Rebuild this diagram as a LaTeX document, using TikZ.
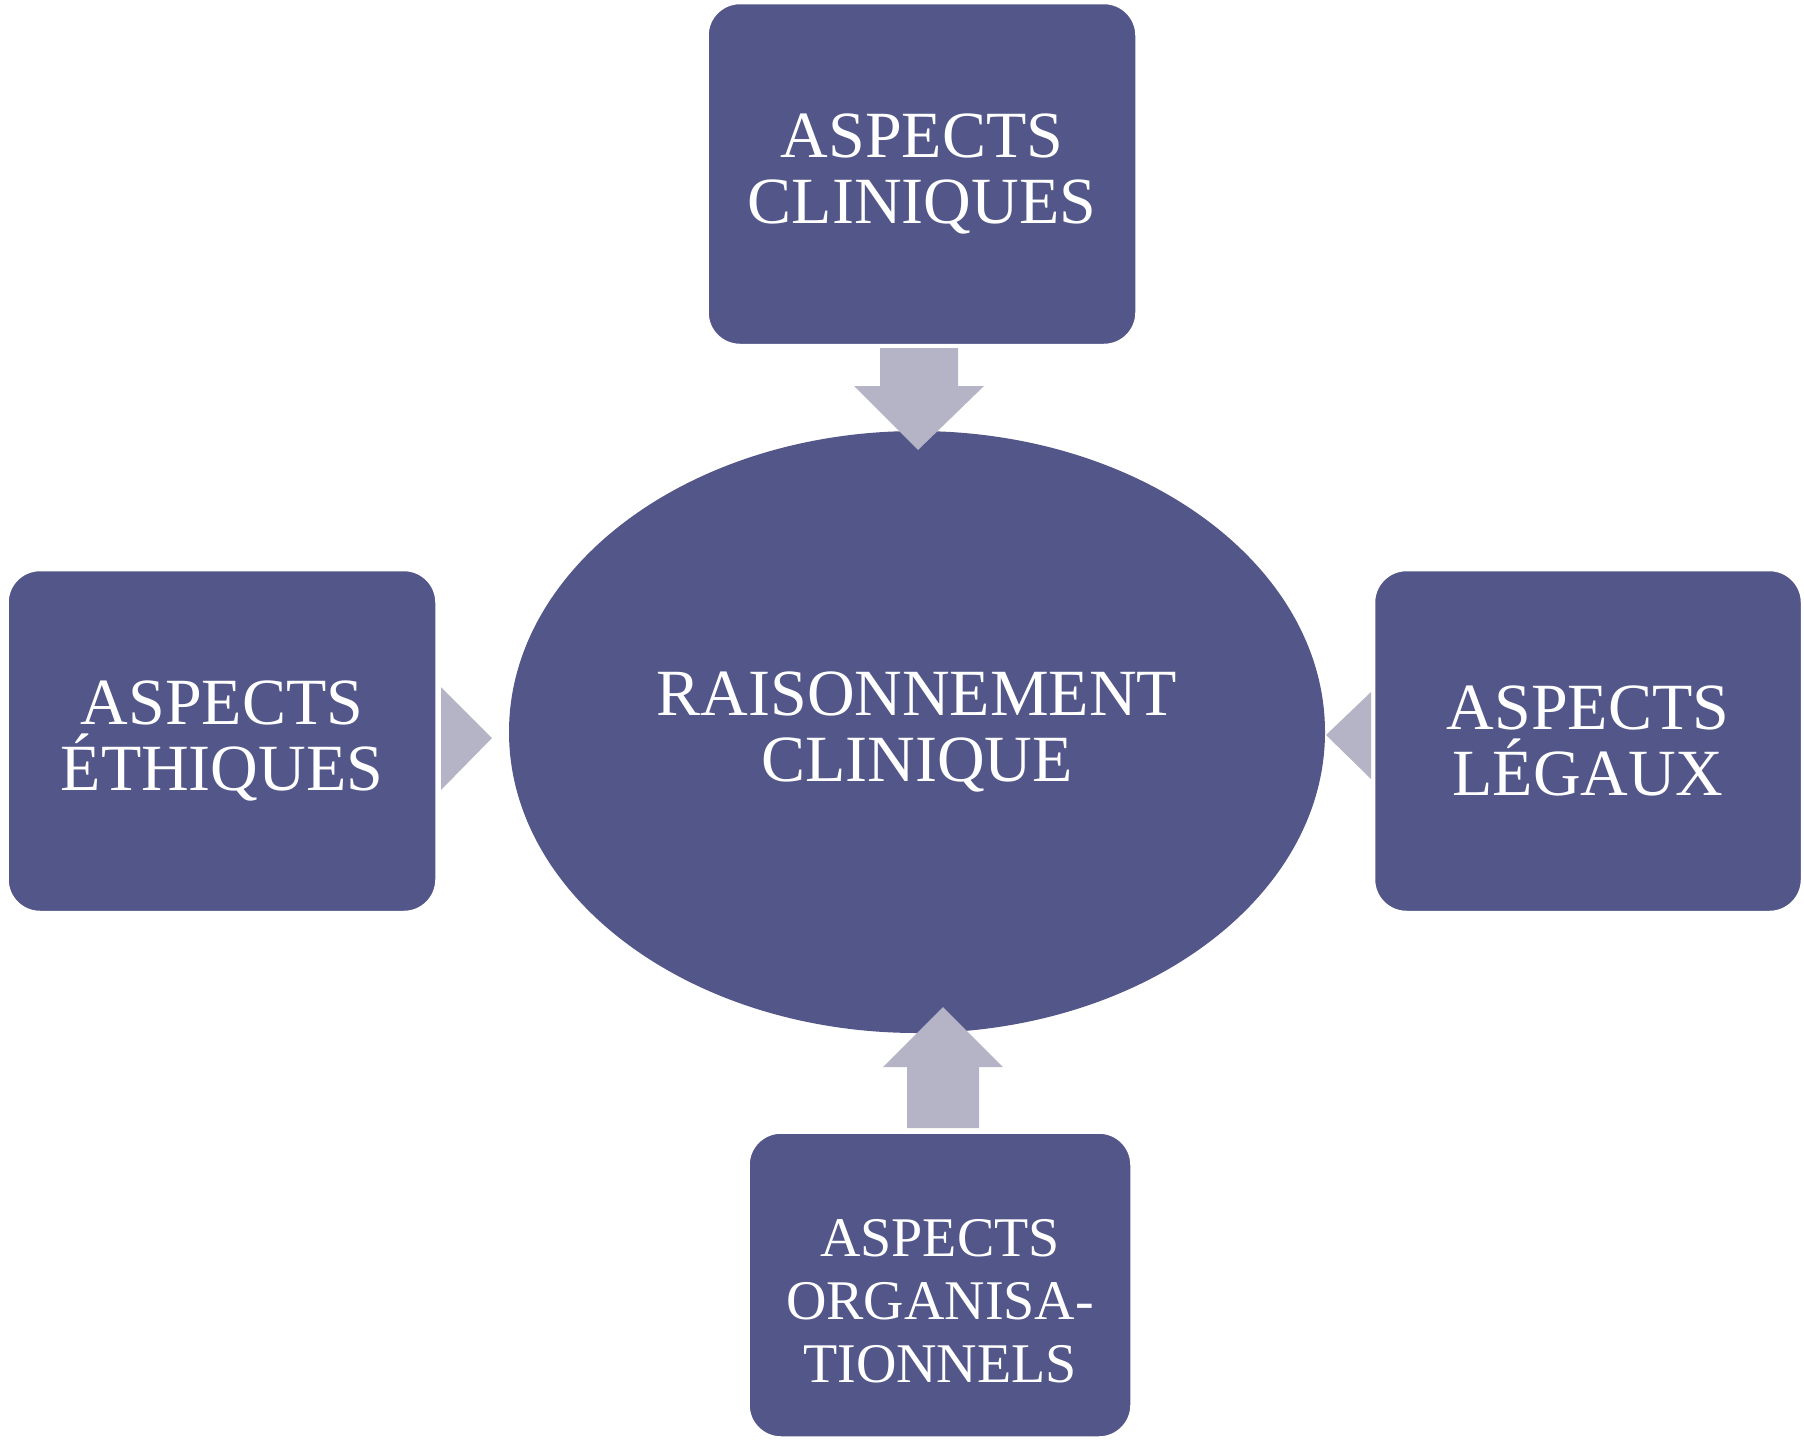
\documentclass[tikz,border=0pt]{standalone}
\usepackage{fontspec}
\setmainfont{Liberation Serif}
\usetikzlibrary{shapes.geometric}
\definecolor{boxblue}{RGB}{83,86,137}
\definecolor{arrowgray}{RGB}{180,180,198}

\begin{document}
\begin{tikzpicture}[x=1pt, y=-1pt]
	\tikzstyle{aspect} = [rectangle, rounded corners=32pt, fill=boxblue, draw=white, line width=1.5pt, text=white, align=center, font=\fontsize{66}{66}\selectfont]
	\tikzstyle{bigarrow} = [fill=arrowgray, draw=none]
	\useasboundingbox (0,0) rectangle (1804,1440);
	\node [ellipse, fill=boxblue, minimum width=816pt, minimum height=602pt, text=white, align=center, font=\fontsize{66}{66}\selectfont] (raison) at (917, 732) {RAISONNEMENT\\CLINIQUE};
	\node [aspect, minimum width=428pt, minimum height=341pt] (clin) at (922, 174) {ASPECTS\\CLINIQUES};
	\node [aspect, minimum width=428pt, minimum height=341pt] (ethi) at (222, 741) {ASPECTS\\ÉTHIQUES};
	\node [aspect, minimum width=427pt, minimum height=341pt] (lega) at (1588, 741) {ASPECTS\\LÉGAUX};
	\node [aspect, minimum width=382pt, minimum height=304pt, font=\fontsize{56}{63}\selectfont] (orga) at (940, 1285) {\raisebox{-22pt}[\height][\depth]{\begin{tabular}{@{}c@{}}ASPECTS\\ORGANISA-\\TIONNELS\end{tabular}}};
	\draw [bigarrow] (880,348) -- (958,348) -- (958,386) -- (984,386) -- (918,450) -- (854,386) -- (880,386) -- cycle;
	\draw [bigarrow] (441,687) -- (492,738) -- (441,790) -- cycle;
	\draw [bigarrow] (1371,692) -- (1326,735) -- (1371,779) -- cycle;
	\draw [bigarrow] (907,1128) -- (907,1067) -- (883,1067) -- (943,1007) -- (1003,1067) -- (979,1067) -- (979,1128) -- cycle;
\end{tikzpicture}
\end{document}
